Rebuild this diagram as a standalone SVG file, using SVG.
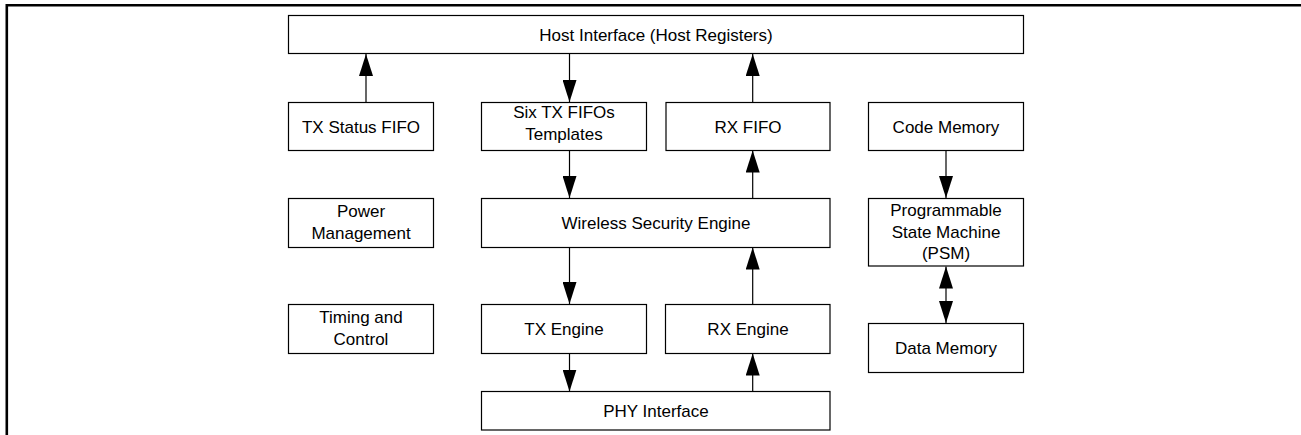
<svg xmlns="http://www.w3.org/2000/svg" width="1301" height="435" viewBox="0 0 1301 435">
<style>
.box{fill:#fff;stroke:#000;stroke-width:1.2}
.t{font-family:"Liberation Sans",Arial,sans-serif;font-size:17px;fill:#000;text-anchor:middle}
.c{fill:none;stroke:#000;stroke-width:1.2}
.e{marker-end:url(#ah)}
.s{marker-start:url(#ah)}
</style>
<defs>
<marker id="ah" markerUnits="userSpaceOnUse" markerWidth="22" markerHeight="14" refX="22" refY="7" orient="auto-start-reverse" viewBox="0 0 22 14">
<path d="M0,0 L22,7 L0,14 z" fill="#000"/>
</marker>
</defs>
<rect width="1301" height="435" fill="#fff"/>
<path d="M6.8,435 V5.3 H1301" fill="none" stroke="#000" stroke-width="2.6"/>

<g id="connectors">
<line class="c e" x1="366" y1="102" x2="366" y2="54"/>
<line class="c e" x1="569.5" y1="53.5" x2="569.5" y2="102"/>
<line class="c e" x1="752.7" y1="102" x2="752.7" y2="54"/>
<line class="c e" x1="569.5" y1="150" x2="569.5" y2="198"/>
<line class="c e" x1="752.7" y1="198" x2="752.7" y2="150.5"/>
<line class="c e" x1="569.5" y1="247" x2="569.5" y2="304"/>
<line class="c e" x1="752.7" y1="304" x2="752.7" y2="247.5"/>
<line class="c e" x1="569.5" y1="353" x2="569.5" y2="391.5"/>
<line class="c e" x1="752.7" y1="391.5" x2="752.7" y2="353.5"/>
<line class="c e" x1="946" y1="150" x2="946" y2="198"/>
<line class="c s e" x1="946" y1="266.5" x2="946" y2="323"/>
</g>

<g id="host"><rect class="box" x="288.5" y="15.5" width="735" height="38"/><text class="t" x="656" y="40.5">Host Interface (Host Registers)</text></g>
<g id="txstatus"><rect class="box" x="288.5" y="102.5" width="145" height="48"/><text class="t" x="361" y="132.5">TX Status FIFO</text></g>
<g id="txfifos"><rect class="box" x="481.5" y="102.5" width="165" height="48"/><text class="t" x="564" y="118">Six TX FIFOs</text><text class="t" x="564" y="140">Templates</text></g>
<g id="rxfifo"><rect class="box" x="666" y="102.5" width="164" height="48"/><text class="t" x="748" y="132.5">RX FIFO</text></g>
<g id="codemem"><rect class="box" x="868.5" y="102.5" width="155" height="48"/><text class="t" x="946" y="132.5">Code Memory</text></g>
<g id="power"><rect class="box" x="288.5" y="198.5" width="145" height="49"/><text class="t" x="361" y="217">Power</text><text class="t" x="361" y="239">Management</text></g>
<g id="wse"><rect class="box" x="481.5" y="198.5" width="348.5" height="49"/><text class="t" x="656" y="229">Wireless Security Engine</text></g>
<g id="psm"><rect class="box" x="868.5" y="198.5" width="155" height="67.5"/><text class="t" x="946" y="216">Programmable</text><text class="t" x="946" y="237.5">State Machine</text><text class="t" x="946" y="259">(PSM)</text></g>
<g id="timing"><rect class="box" x="288.5" y="304.5" width="145" height="49"/><text class="t" x="361" y="323">Timing and</text><text class="t" x="361" y="345">Control</text></g>
<g id="txengine"><rect class="box" x="481.5" y="304.5" width="165" height="49"/><text class="t" x="564" y="335">TX Engine</text></g>
<g id="rxengine"><rect class="box" x="665.5" y="304.5" width="164.5" height="49"/><text class="t" x="748" y="335">RX Engine</text></g>
<g id="datamem"><rect class="box" x="868.5" y="323.5" width="155" height="49"/><text class="t" x="946" y="354">Data Memory</text></g>
<g id="phy"><rect class="box" x="481.5" y="391.5" width="348.5" height="38.5"/><text class="t" x="656" y="417">PHY Interface</text></g>
</svg>
